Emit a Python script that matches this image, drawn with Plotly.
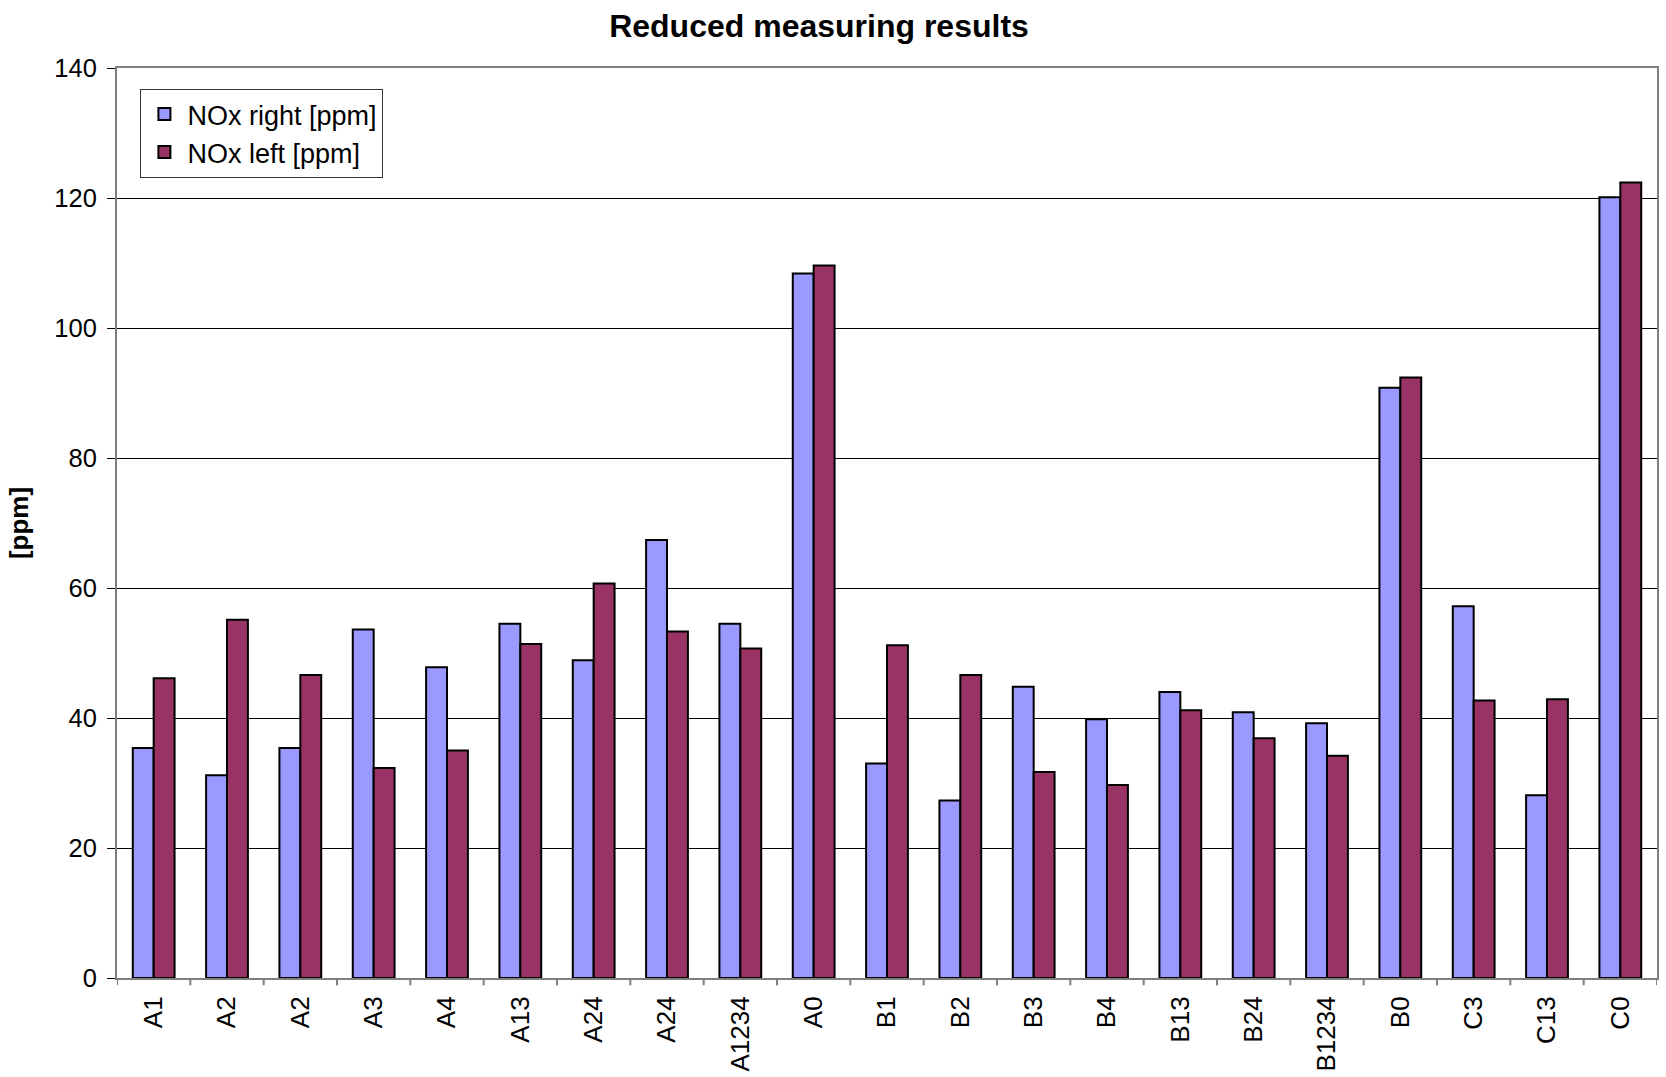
import plotly.graph_objects as go

# Test configurations (x-axis categories)
categories = ["A1", "A2", "A2", "A3", "A4", "A13", "A24", "A24", "A1234", "A0",
              "B1", "B2", "B3", "B4", "B13", "B24", "B1234", "B0", "C3", "C13", "C0"]

# NOx readings in ppm
nox_right = [35.4, 31.2, 35.4, 53.6, 47.8, 54.5, 48.9, 67.4, 54.5, 108.4,
             33.0, 27.3, 44.8, 39.8, 44.0, 40.9, 39.2, 90.8, 57.2, 28.1, 120.1]
nox_left = [46.1, 55.1, 46.6, 32.3, 35.0, 51.4, 60.7, 53.3, 50.7, 109.6,
            51.2, 46.6, 31.7, 29.7, 41.2, 36.9, 34.2, 92.4, 42.7, 42.9, 122.4]

y_ticks = [0, 20, 40, 60, 80, 100, 120, 140]

FONT = "Arial, Liberation Sans, sans-serif"

# Positions on a numeric axis so repeated category names stay separate
xpos = list(range(len(categories)))

fig = go.Figure()
fig.add_trace(go.Bar(
    x=xpos, y=nox_right, name="NOx right [ppm]",
    marker=dict(color="#9999FF", line=dict(color="#000000", width=2)),
))
fig.add_trace(go.Bar(
    x=xpos, y=nox_left, name="NOx left [ppm]",
    marker=dict(color="#993366", line=dict(color="#000000", width=2)),
))

fig.update_layout(
    width=1666, height=1077,
    margin=dict(l=117, r=9, t=68, b=99),
    paper_bgcolor="white", plot_bgcolor="white",
    font=dict(family=FONT, size=26, color="#000000"),
    barmode="group", bargap=0.43, bargroupgap=0,
    title=dict(
        text="<b>Reduced measuring results</b>",
        font=dict(family=FONT, size=32, color="#000000"),
        x=0.4916, xref="container", xanchor="center",
        y=1 - 26 / 1077, yref="container", yanchor="middle",
    ),
    legend=dict(
        x=0.0152, y=0.977, xanchor="left", yanchor="top",
        bgcolor="white", bordercolor="#333333", borderwidth=1,
        font=dict(family=FONT, size=27, color="#000000"),
        itemwidth=36, tracegroupgap=6,
    ),
    showlegend=True,
)

fig.update_xaxes(
    tickmode="array", tickvals=xpos, ticktext=categories,
    tickangle=-90, tickfont=dict(family=FONT, size=26),
    ticklabelstandoff=6, automargin=False,
    range=[-0.5, len(categories) - 0.5],
    showline=True, linecolor="#808080", linewidth=2, mirror=True,
    ticks="", showgrid=False, zeroline=False,
)

fig.update_yaxes(
    range=[0, 140], tickmode="array", tickvals=y_ticks,
    tickfont=dict(family=FONT, size=25.5),
    ticks="outside", ticklen=8, tickcolor="#000000", tickwidth=1,
    ticklabelstandoff=5, automargin=False,
    showline=True, linecolor="#808080", linewidth=2, mirror=True,
    showgrid=True, gridcolor="#000000", gridwidth=1, zeroline=False,
    title=dict(text="<b>[ppm]</b>", font=dict(family=FONT, size=26), standoff=18),
)

# Category boundary ticks below the x axis
for k in range(len(categories) + 1):
    fig.add_shape(
        type="line", xref="x", yref="paper",
        x0=k - 0.5, x1=k - 0.5, y0=0, y1=-0.008,
        line=dict(color="#808080", width=2),
    )

fig.write_html("out.html")
